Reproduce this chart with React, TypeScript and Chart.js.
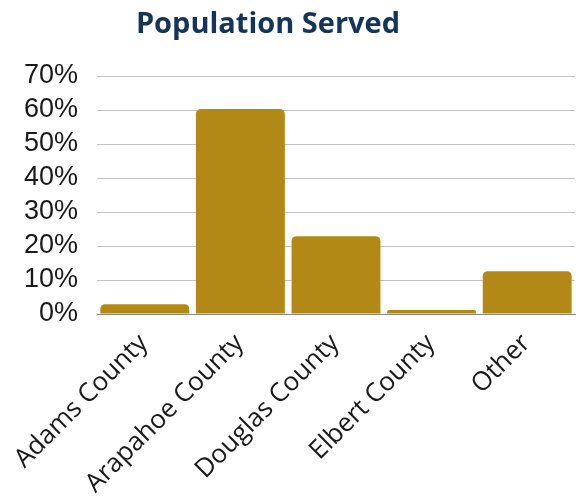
import React, { useEffect, useRef } from "react";
import { Chart, registerables } from "chart.js";

Chart.register(...registerables);

const TITLE = "Population Served";
const categories = ["Adams County", "Arapahoe County", "Douglas County", "Elbert County", "Other"];
const values = [2.9, 60.3, 22.9, 1.2, 12.6];
const yTicks = [0, 10, 20, 30, 40, 50, 60, 70];

const titlePlugin = {
  id: "customTitle",
  afterDraw(chart: any) {
    const ctx = chart.ctx;
    ctx.save();
    ctx.font = "bold 29px 'Open Sans'";
    ctx.fillStyle = "#15345a";
    ctx.textAlign = "center";
    ctx.textBaseline = "middle";
    ctx.fillText(TITLE, 268, 25);
    ctx.restore();
  },
};

export default function App() {
  const ref = useRef<HTMLCanvasElement>(null);
  useEffect(() => {
    if (!ref.current) return;
    const chart = new Chart(ref.current, {
      type: "bar",
      data: {
        labels: categories,
        datasets: [
          {
            data: values,
            backgroundColor: "#b28916",
            borderRadius: { topLeft: 5, topRight: 5, bottomLeft: 0, bottomRight: 0 },
            borderSkipped: "start",
            barPercentage: 0.93,
            categoryPercentage: 1,
          },
        ],
      },
      options: {
        animation: false,
        responsive: true,
        maintainAspectRatio: false,
        layout: { padding: { top: 76, right: 5, left: 0, bottom: 0 } },
        plugins: { legend: { display: false }, title: { display: false }, tooltip: { enabled: false } },
        scales: {
          x: {
            grid: { display: false },
            border: { display: true, color: "#888888", width: 1 },
            afterFit: (s: any) => {
              s.height = 187;
            },
            ticks: {
              color: "#1a1a1a",
              font: { family: "'Open Sans'", size: 26 },
              maxRotation: 45,
              minRotation: 45,
              padding: 6,
              labelOffset: -1,
              autoSkip: false,
            },
          },
          y: {
            min: 0,
            max: 70,
            afterBuildTicks: (s: any) => {
              s.ticks = yTicks.map((v) => ({ value: v }));
            },
            afterFit: (s: any) => {
              s.width = 97;
            },
            grid: { color: "#c4c4c4", drawTicks: false, lineWidth: 1 },
            border: { display: false },
            ticks: {
              color: "#1a1a1a",
              font: { family: "'Liberation Sans'", size: 27 },
              padding: 19,
              autoSkip: false,
              callback: (v: any) => v + "%",
            },
          },
        },
      },
      plugins: [titlePlugin],
    });
    return () => chart.destroy();
  }, []);
  return (
    <div style={{ position: "fixed", left: 0, top: 0, width: 580, height: 501 }}>
      <canvas ref={ref} />
    </div>
  );
}
